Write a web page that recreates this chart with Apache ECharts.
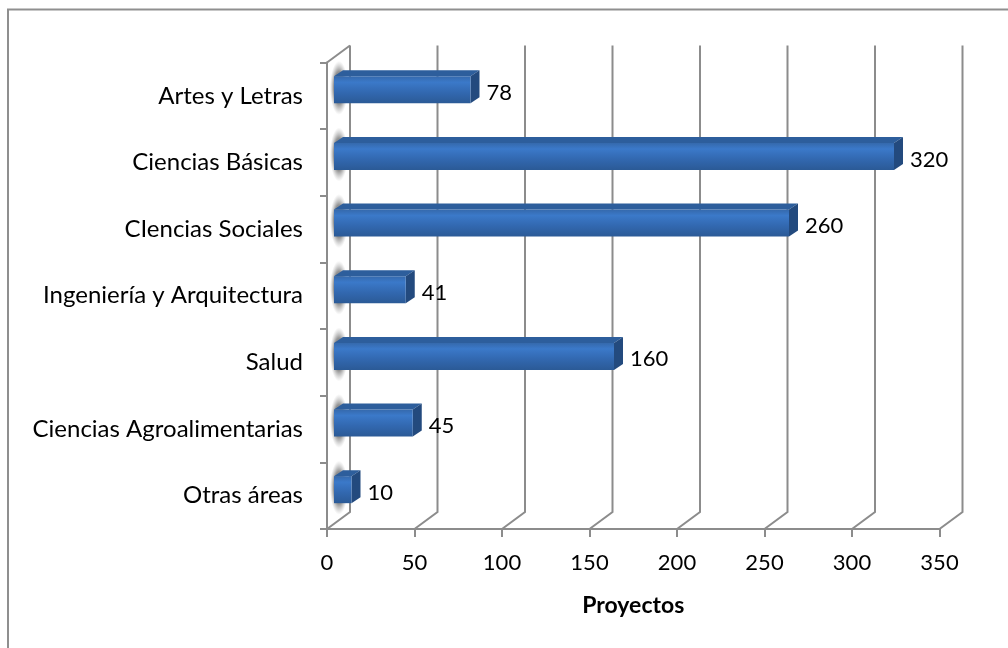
<!DOCTYPE html>
<html><head><meta charset="utf-8">
<style>html,body{margin:0;padding:0;background:#fff}#c{width:1008px;height:648px}</style>
<script src="https://cdn.jsdelivr.net/npm/echarts@6/dist/echarts.min.js"></script>
</head><body><div id="c"></div>
<script>
const categories = ['Otras áreas','Ciencias Agroalimentarias','Salud','Ingeniería y Arquitectura','CIencias Sociales','Ciencias Básicas','Artes y Letras'];
const proyectos = [10,45,160,41,260,320,78];
const xTicks = [0,50,100,150,200,250,300,350];

const GRAY = '#8c8c8c';
const WALL_DX = 23, WALL_DY = 17;
const BAR_INSET = 7, BAR_H = 27, BAR_DX = 9, BAR_DY = 6, BAR_UP = 6;

const chart = echarts.init(document.getElementById('c'), null, {renderer:'canvas'});

function wallItem(params, api){
  const v = api.value(0);
  const p = api.coord([v, 0]);
  const x = p[0];
  const cs = params.coordSys;
  const floor = cs.y + cs.height, top = cs.y;
  const style = {stroke:GRAY, lineWidth:2, fill:null};
  const children = [{type:'polyline', shape:{points:[[x,floor],[x+WALL_DX,floor-WALL_DY],[x+WALL_DX,top-WALL_DY]]}, style}];
  if (v === 0) children.push({type:'polyline', shape:{points:[[x,top],[x+WALL_DX,top-WALL_DY]]}, style});
  return {type:'group', children};
}
function shadowItem(params, api){
  const p0 = api.coord([0, api.value(0)]);
  const yc = p0[1] - 8, x = p0[0];
  const glow = new echarts.graphic.RadialGradient(0.5,0.5,0.5,[
    {offset:0,color:'rgba(95,95,95,0.95)'},{offset:0.6,color:'rgba(120,120,120,0.8)'},{offset:1,color:'rgba(170,170,170,0)'}]);
  return {type:'rect', shape:{x:x+3, y:yc-9, width:18, height:18}, style:{fill:glow},
    originX:x+12, originY:yc, scaleY:3};
}
function barItem(params, api){
  const cat = api.value(0), val = api.value(1);
  const p0 = api.coord([0, cat]), p1 = api.coord([val, cat]);
  const x0 = p0[0] + BAR_INSET, x1 = p1[0] + BAR_INSET;
  const yc = p0[1] - BAR_UP, t = yc - BAR_H/2, b = yc + BAR_H/2;
  const front = new echarts.graphic.LinearGradient(0,0,0,1,[
    {offset:0,color:'#3569ac'},{offset:0.22,color:'#3b79c9'},{offset:0.6,color:'#3268b0'},{offset:1,color:'#2b5a96'}]);
  return {type:'group', children:[
    {type:'polygon', shape:{points:[[x0,t],[x0+BAR_DX,t-BAR_DY],[x1+BAR_DX,t-BAR_DY],[x1,t]]}, style:{fill:'#2d5e9c'}},
    {type:'polygon', shape:{points:[[x1,t],[x1+BAR_DX,t-BAR_DY],[x1+BAR_DX,b-BAR_DY],[x1,b]]}, style:{fill:'#234a7e'}},
    {type:'rect', shape:{x:x0,y:t,width:x1-x0,height:BAR_H}, style:{fill:front}},
    {type:'text', style:{x:x1+BAR_DX+7, y:yc+3, text:String(val), fill:'#000', font:'22px Lato', textAlign:'left', textVerticalAlign:'middle'}}
  ]};
}

chart.setOption({
  animation:false,
  backgroundColor:'#fff',
  graphic:[
    {type:'line', z:-10, shape:{x1:7,y1:9.5,x2:1008,y2:9.5}, style:{stroke:'#8f8f8f',lineWidth:2}},
    {type:'line', z:-10, shape:{x1:8,y1:9,x2:8,y2:648}, style:{stroke:'#8f8f8f',lineWidth:2}}
  ],
  grid:{left:327, top:62.5, width:612.5, height:466.5, containLabel:false},
  xAxis:{type:'value', min:0, max:350, interval:50,
    name:'Proyectos', nameLocation:'middle', nameGap:65,
    nameTextStyle:{fontFamily:'Lato', fontWeight:'bold', fontSize:23, color:'#000'},
    axisLine:{show:true, lineStyle:{color:GRAY,width:2}},
    axisTick:{show:true, length:8, lineStyle:{color:GRAY,width:2}},
    axisLabel:{fontFamily:'Lato', fontSize:22, color:'#000', margin:23},
    splitLine:{show:false}},
  yAxis:{type:'category', data:categories,
    axisLine:{show:true, lineStyle:{color:GRAY,width:2}},
    axisTick:{show:true, length:7, lineStyle:{color:GRAY,width:2}},
    axisLabel:{fontFamily:'Lato', fontSize:24, color:'#000', margin:24, padding:[4,0,0,0]},
    splitLine:{show:false}},
  series:[
    {type:'custom', clip:false, silent:true, z:1, data:xTicks.map(v=>[v]), encode:{x:0}, renderItem:wallItem},
    {type:'custom', clip:false, silent:true, z:2, data:categories.map((c,i)=>[i]), encode:{y:0}, renderItem:shadowItem},
    {type:'custom', clip:false, silent:true, z:3, data:proyectos.map((v,i)=>[i,v]), encode:{y:0,x:1}, renderItem:barItem}
  ]
});
</script></body></html>
